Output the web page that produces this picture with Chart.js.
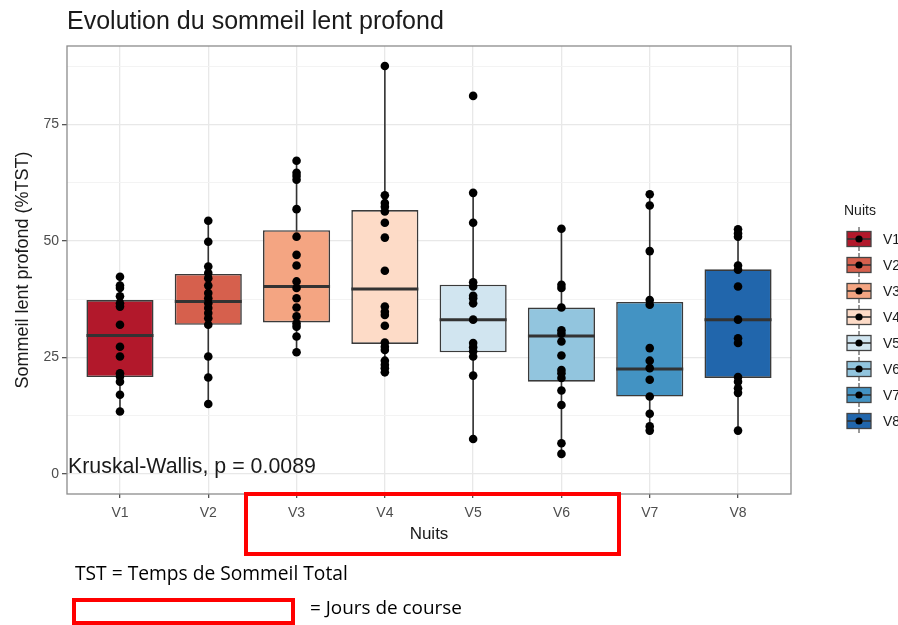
<!DOCTYPE html>
<html>
<head>
<meta charset="utf-8">
<script src="https://cdn.jsdelivr.net/npm/chart.js@4.4.1/dist/chart.umd.min.js"></script>
<style>
  html, body { margin: 0; padding: 0; background: #fff; }
  canvas { display: block; }
</style>
</head>
<body>
<canvas id="chart" width="898" height="625"></canvas>
<script>
// Nuits V1..V8
const nights = ['V1', 'V2', 'V3', 'V4', 'V5', 'V6', 'V7', 'V8'];
const boxColors = ['#B2182B', '#D6604D', '#F4A582', '#FDDBC7', '#D1E5F0', '#92C5DE', '#4393C3', '#2166AC'];

// boxplot stats (%TST)
const q1 = [20.8, 32.0, 32.5, 27.9, 26.1, 19.8, 16.6, 20.6];
const median = [29.7, 37.0, 40.2, 39.7, 33.1, 29.6, 22.5, 33.1];
const q3 = [37.3, 42.9, 52.3, 56.6, 40.6, 35.7, 36.9, 43.9];
const whiskerLow = [13.4, 15.0, 26.1, 21.8, 7.5, 4.3, 9.3, 9.3];
const whiskerHigh = [42.3, 54.3, 67.2, 87.5, 60.3, 52.6, 60.0, 52.5];

// individual subjects per night
const v1 = [42.3, 40.4, 39.9, 38.1, 36.6, 35.9, 32.0, 27.3, 25.2, 21.6, 20.9, 19.8, 17.0, 13.4];
const v2 = [54.3, 49.8, 44.5, 43.1, 42.0, 40.4, 38.8, 37.7, 36.6, 35.6, 34.5, 33.4, 32.0, 25.2, 20.7, 15.0];
const v3 = [67.2, 64.6, 63.9, 63.1, 56.8, 50.9, 47.0, 44.7, 41.3, 39.9, 37.7, 35.7, 33.8, 32.3, 31.6, 29.5, 26.1];
const v4 = [87.5, 59.8, 58.1, 57.3, 56.3, 53.9, 50.7, 43.6, 35.9, 34.8, 34.1, 31.8, 28.2, 27.3, 26.6, 24.3, 23.4, 22.7, 21.8];
const v5 = [81.1, 60.3, 53.9, 41.1, 40.2, 38.2, 37.7, 36.6, 33.1, 28.1, 27.2, 26.3, 25.2, 21.1, 7.5];
const v6 = [52.6, 40.6, 39.9, 35.7, 30.8, 30.1, 28.4, 25.4, 22.3, 21.6, 20.6, 17.9, 14.8, 6.6, 4.3];
const v7 = [60.0, 57.6, 47.8, 37.3, 36.3, 27.0, 24.3, 22.7, 20.2, 16.6, 12.9, 10.2, 9.3];
const v8 = [52.5, 51.6, 50.9, 44.7, 43.8, 40.2, 33.1, 29.1, 28.1, 20.8, 19.8, 18.4, 17.4, 9.3];
const subjects = [v1, v2, v3, v4, v5, v6, v7, v8];

const yTicks = [0, 25, 50, 75];

// build datasets
const boxData = nights.map((n, i) => ({ x: i + 1, y: [q1[i], q3[i]] }));
const medianData = nights.map((n, i) => ({ x: i + 1, y: median[i] }));
const whiskerData = [];
nights.forEach((n, i) => {
    whiskerData.push({ x: i + 1, y: whiskerLow[i] });
    whiskerData.push({ x: i + 1, y: whiskerHigh[i] });
    whiskerData.push({ x: i + 1, y: null });
});
const pointData = [];
subjects.forEach((vals, i) => vals.forEach(v => pointData.push({ x: i + 1, y: v })));

const SANS = '"Liberation Sans", Arial, sans-serif';

// fit text to a target width (the picture's fonts are not installed)
function fitText(ctx, text, x, y, width, size, family, color, align) {
    ctx.font = size + 'px ' + family;
    const w = ctx.measureText(text).width;
    const s = size * width / w;
    ctx.font = s + 'px ' + family;
    ctx.fillStyle = color;
    ctx.textAlign = align || 'left';
    ctx.textBaseline = 'middle';
    ctx.fillText(text, x, y);
}

const decorations = {
    id: 'decorations',
    afterDraw(chart) {
        const ctx = chart.ctx;
        const a = chart.chartArea;
        ctx.save();

        // panel border
        ctx.strokeStyle = '#8c8c8c';
        ctx.lineWidth = 1.3;
        ctx.strokeRect(a.left, a.top, a.right - a.left, a.bottom - a.top);

        // title
        fitText(ctx, 'Evolution du sommeil lent profond', a.left, 22, 377, 21, SANS, '#1a1a1a');

        // test label
        fitText(ctx, 'Kruskal-Wallis, p = 0.0089', a.left + 1, 467, 248, 16, SANS, '#1a1a1a');

        // legend
        ctx.textAlign = 'left';
        ctx.textBaseline = 'middle';
        ctx.font = '14px ' + SANS;
        ctx.fillStyle = '#1a1a1a';
        ctx.fillText('Nuits', 844, 211);
        nights.forEach((n, i) => {
            const cy = 239 + i * 26;
            const cx = 859;
            ctx.strokeStyle = '#333';
            ctx.lineWidth = 1;
            ctx.beginPath();
            ctx.moveTo(cx, cy - 12);
            ctx.lineTo(cx, cy + 12);
            ctx.stroke();
            ctx.fillStyle = boxColors[i];
            ctx.fillRect(cx - 12, cy - 7.5, 24, 15);
            ctx.strokeStyle = '#444';
            ctx.lineWidth = 1.3;
            ctx.strokeRect(cx - 12, cy - 7.5, 24, 15);
            ctx.strokeStyle = '#333';
            ctx.lineWidth = 1.6;
            ctx.beginPath();
            ctx.moveTo(cx - 12, cy);
            ctx.lineTo(cx + 12, cy);
            ctx.stroke();
            ctx.fillStyle = '#000';
            ctx.beginPath();
            ctx.arc(cx, cy, 3.6, 0, Math.PI * 2);
            ctx.fill();
            ctx.font = '14px ' + SANS;
            ctx.fillStyle = '#1a1a1a';
            ctx.fillText(n, 883, cy + 1);
        });

        // red frames (jours de course)
        ctx.strokeStyle = '#ff0000';
        ctx.lineWidth = 4;
        ctx.strokeRect(246, 494, 373, 60);
        ctx.strokeRect(74, 600, 219, 23);

        fitText(ctx, 'TST = Temps de Sommeil Total', 75, 575, 273, 17, '"Open Sans", sans-serif', '#000');
        fitText(ctx, '= Jours de course', 310, 609, 152, 17, '"Open Sans", sans-serif', '#000');

        ctx.restore();
    }
};

new Chart(document.getElementById('chart'), {
    type: 'bar',
    data: {
        datasets: [
            {
                type: 'scatter',
                data: pointData,
                pointRadius: 4.3,
                pointBackgroundColor: '#000',
                pointBorderWidth: 0,
                order: 0
            },
            {
                type: 'scatter',
                data: medianData,
                pointStyle: 'line',
                pointRadius: 33.5,
                pointBorderColor: '#333',
                pointBorderWidth: 3,
                order: 1
            },
            {
                type: 'bar',
                data: boxData,
                backgroundColor: boxColors,
                borderColor: '#3a3a3a',
                borderWidth: 1.6,
                borderSkipped: false,
                barPercentage: 0.76,
                categoryPercentage: 1.0,
                order: 2
            },
            {
                type: 'line',
                data: whiskerData,
                borderColor: '#333',
                borderWidth: 1.6,
                pointRadius: 0,
                spanGaps: false,
                order: 3
            }
        ]
    },
    options: {
        responsive: false,
        animation: false,
        events: [],
        layout: { padding: { top: 46, right: 107, bottom: 71, left: 0 } },
        plugins: {
            legend: { display: false },
            tooltip: { enabled: false },
            title: { display: false }
        },
        scales: {
            x: {
                type: 'linear',
                min: 0.4,
                max: 8.6,
                offset: false,
                afterFit: s => { s.height = 60; },
                border: { display: false },
                grid: { offset: false, color: '#e8e8e8', lineWidth: 1.3, tickLength: 4, tickColor: '#555' },
                ticks: {
                    stepSize: 1,
                    includeBounds: false,
                    autoSkip: false,
                    maxRotation: 0,
                    padding: 7,
                    color: '#4d4d4d',
                    font: { family: SANS, size: 14 },
                    callback: v => nights[v - 1] || ''
                },
                title: {
                    display: true,
                    text: 'Nuits',
                    color: '#1a1a1a',
                    font: { family: SANS, size: 17 },
                    padding: { top: 0, bottom: 9 }
                }
            },
            y: {
                min: -4.3,
                max: 91.8,
                afterFit: s => { s.width = 67; },
                border: { display: false },
                grid: {
                    color: ctx => yTicks.includes(ctx.tick.value) ? '#e8e8e8' : '#f2f2f2',
                    lineWidth: ctx => yTicks.includes(ctx.tick.value) ? 1.3 : 0.9,
                    tickLength: 5,
                    tickColor: ctx => yTicks.includes(ctx.tick.value) ? '#555' : 'rgba(0,0,0,0)'
                },
                ticks: {
                    stepSize: 12.5,
                    includeBounds: false,
                    autoSkip: false,
                    padding: 3,
                    color: '#4d4d4d',
                    font: { family: SANS, size: 14 },
                    callback: v => yTicks.includes(v) ? String(v) : ''
                },
                title: {
                    display: true,
                    text: 'Sommeil lent profond (%TST)',
                    color: '#1a1a1a',
                    font: { family: SANS, size: 18 },
                    padding: { top: 12, bottom: 0 }
                }
            }
        }
    },
    plugins: [decorations]
});
</script>
</body>
</html>
